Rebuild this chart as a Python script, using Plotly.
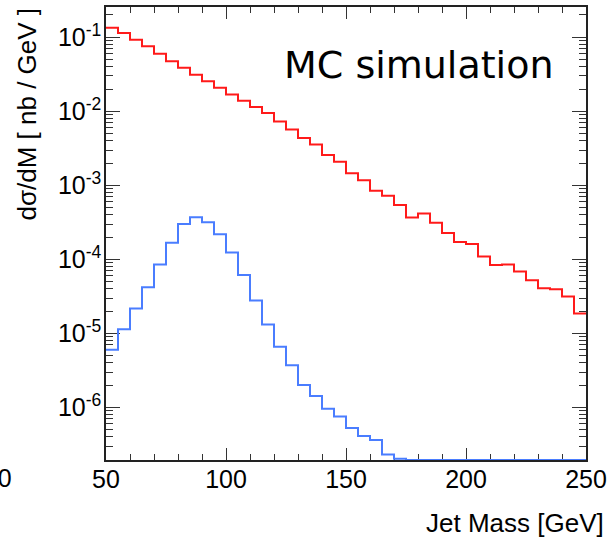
import numpy as np
import plotly.graph_objects as go

# Bin edges: 40 bins of 5 GeV from 50 to 250
bin_edges = list(range(50, 255, 5))

# Red histogram (dσ/dM, nb/GeV)
red_values = [0.134, 0.1145, 0.0923, 0.0756, 0.0598, 0.0476, 0.0388, 0.0312, 0.0254, 0.0208,
              0.0169, 0.0139, 0.0114, 0.00948, 0.00727, 0.00567, 0.00436, 0.00356, 0.00256, 0.00208,
              0.00145, 0.00117, 0.000846, 0.000724, 0.000543, 0.000366, 0.000415, 0.000311, 0.000226, 0.000171,
              0.000161, 0.000109, 8.38e-5, 8.53e-5, 6.87e-5, 5.2e-5, 4.06e-5, 3.93e-5, 3.14e-5, 1.85e-5]

# Blue histogram
blue_values = [6.0e-6, 1.14e-5, 2.17e-5, 4.2e-5, 8.5e-5, 1.68e-4, 2.99e-4, 3.71e-4, 3.18e-4, 2.19e-4,
               1.24e-4, 6.15e-5, 2.78e-5, 1.32e-5, 6.6e-6, 3.71e-6, 2.0e-6, 1.42e-6, 9.57e-7, 7.55e-7,
               5.26e-7, 4.11e-7, 3.63e-7, 2.30e-7, 2.03e-7, 0, 0, 0, 0, 0,
               0, 0, 0, 0, 0, 0, 0, 0, 0, 0]

x_tick_vals = [50, 100, 150, 200, 250]
y_tick_vals = [1e-6, 1e-5, 1e-4, 1e-3, 1e-2, 1e-1]
y_tick_text = ["10<sup>-6</sup>", "10<sup>-5</sup>", "10<sup>-4</sup>",
               "10<sup>-3</sup>", "10<sup>-2</sup>", "10<sup>-1</sup>"]

x_range = [50, 250]
y_log_range = [-6.711, -0.591]
y_floor = 10 ** y_log_range[0]

def step_y(vals):
    v = np.array(vals, dtype=float)
    v = np.where(v > 0, v, y_floor)
    return list(v) + [v[-1]]

FONT = "Liberation Sans, Arial, Helvetica, sans-serif"

fig = go.Figure()
fig.add_trace(go.Scatter(x=bin_edges, y=step_y(red_values), mode="lines",
                         line=dict(shape="hv", color="#ff1a1a", width=2),
                         cliponaxis=False, showlegend=False, hoverinfo="skip"))
fig.add_trace(go.Scatter(x=bin_edges, y=step_y(blue_values), mode="lines",
                         line=dict(shape="hv", color="#4a7dff", width=2),
                         cliponaxis=False, showlegend=False, hoverinfo="skip"))

W, H = 612, 541
L, R, T, B = 106, 26, 5, 81

fig.update_layout(
    width=W, height=H,
    margin=dict(l=L, r=R, t=T, b=B),
    paper_bgcolor="white", plot_bgcolor="white",
    font=dict(family=FONT, size=25, color="black"),
    xaxis=dict(range=x_range, tickvals=x_tick_vals, ticks="inside", ticklen=12,
               tickwidth=1, tickcolor="#333", showline=True, linecolor="#222",
               linewidth=1.5, mirror="ticks", showgrid=False, zeroline=False,
               layer="below traces", ticklabelstandoff=-4,
               tickfont=dict(size=25),
               minor=dict(dtick=10, ticks="inside", ticklen=6, tickcolor="#333",
                          tickwidth=1, showgrid=False)),
    yaxis=dict(type="log", range=y_log_range, tickvals=y_tick_vals, ticktext=y_tick_text,
               ticks="inside", ticklen=14, tickwidth=1, tickcolor="#333",
               showline=True, linecolor="#222", linewidth=1.5, mirror="ticks",
               showgrid=False, zeroline=False, layer="below traces",
               ticklabelstandoff=-2,
               tickfont=dict(size=25),
               minor=dict(dtick="D1", ticks="inside", ticklen=7, tickcolor="#333",
                          tickwidth=1, showgrid=False)),
)

pw = W - L - R
ph = H - T - B

def px_to_paper_x(px):
    return (px - L) / pw

def px_to_paper_y(py):
    return 1 - (py - T) / ph

fig.add_annotation(text="MC simulation", xref="paper", yref="paper",
                   x=px_to_paper_x(556), y=px_to_paper_y(63), xanchor="right", yanchor="middle",
                   showarrow=False, font=dict(family="DejaVu Sans", size=38, color="black"))
fig.add_annotation(text="Jet Mass [GeV]", xref="paper", yref="paper",
                   x=px_to_paper_x(606), y=px_to_paper_y(523), xanchor="right", yanchor="middle",
                   showarrow=False, font=dict(family=FONT, size=26, color="black"))
fig.add_annotation(text="dσ/dM [ nb / GeV ]", xref="paper", yref="paper",
                   x=px_to_paper_x(27), y=px_to_paper_y(4), xanchor="center", yanchor="top",
                   textangle=-90, showarrow=False, font=dict(family=FONT, size=26, color="black"))
# partial label of neighbouring panel at the far left edge
fig.add_annotation(text="250", xref="paper", yref="paper",
                   x=px_to_paper_x(14), y=px_to_paper_y(478), xanchor="right", yanchor="middle",
                   showarrow=False, font=dict(family=FONT, size=25, color="black"))

fig.write_html("out.html", config={"displayModeBar": False},
               post_script="document.body.style.margin='0';document.body.style.padding='0';")
